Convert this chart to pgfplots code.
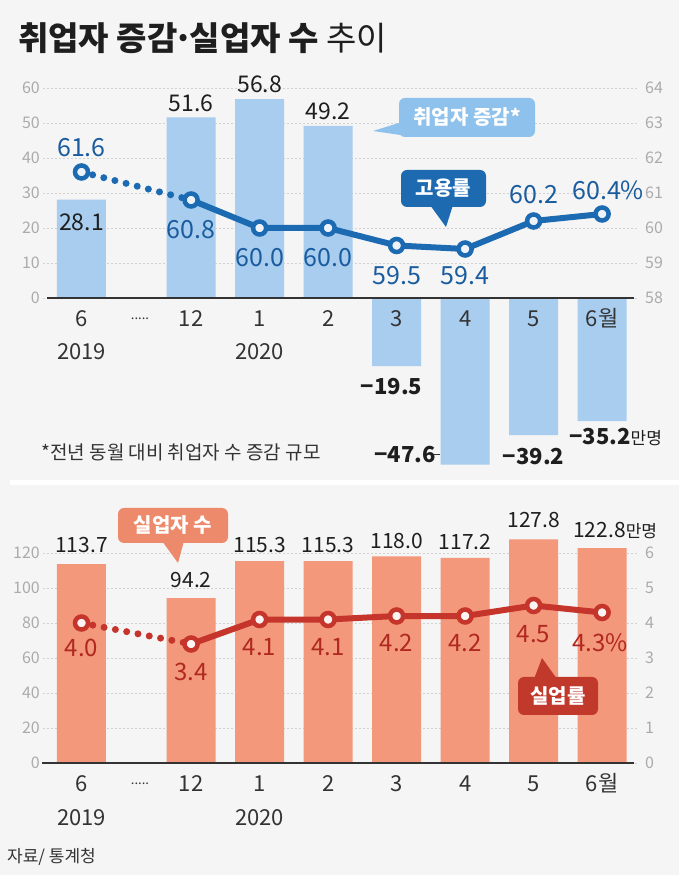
\documentclass[border=0pt]{standalone}
\usepackage{pgfplots}
\pgfplotsset{compat=1.18}
\usepackage{fontspec}
\setmainfont{Noto Sans CJK KR}
\definecolor{bg}{HTML}{F5F5F5}
\definecolor{barblue}{HTML}{A8CDEF}
\definecolor{lineblue}{HTML}{1C6AB2}
\definecolor{labblue}{HTML}{1A5C9E}
\definecolor{calblue}{HTML}{8EC1EB}
\definecolor{caldblue}{HTML}{1D6AB0}
\definecolor{barred}{HTML}{F3987B}
\definecolor{linered}{HTML}{C5352B}
\definecolor{labred}{HTML}{B0281F}
\definecolor{calsalmon}{HTML}{EE8A6C}
\definecolor{calred}{HTML}{C0392B}
\definecolor{tickgray}{HTML}{ABABAB}
\definecolor{gridgray}{HTML}{D2D2D2}
\definecolor{axisdark}{HTML}{333333}
\definecolor{txt}{HTML}{1E1E1E}
\newcommand\tickfont{\fontsize{16}{18}\selectfont}
\newcommand\xlabfont{\fontsize{22}{24}\selectfont}
\newcommand\barfont{\fontsize{23}{25}\selectfont}
\newcommand\negfont{\fontsize{22}{24}\selectfont\bfseries}
\newcommand\bbarfont{\fontsize{21}{23}\selectfont}
\newcommand\linefont{\fontsize{25}{27}\selectfont}
\newcommand\blinefont{\fontsize{24}{26}\selectfont}
\newcommand\calfont{\fontsize{20}{22}\selectfont\bfseries}
\newcommand\xlabels{%
 \begin{scope}[every node/.style={font=\xlabfont, text=axisdark, inner sep=0pt, anchor=base}]
 \node[yshift=-28.5pt] at (axis cs:0,0) {6};
 \node[yshift=-62pt] at (axis cs:0,0) {2019};
 \node[yshift=-22pt] at (axis cs:0.854,0) {\fontsize{13}{13}\selectfont .....};
 \node[yshift=-28.5pt] at (axis cs:1.6,0) {12};
 \node[yshift=-28.5pt] at (axis cs:2.6,0) {1};
 \node[yshift=-62pt] at (axis cs:2.6,0) {2020};
 \node[yshift=-28.5pt] at (axis cs:3.6,0) {2};
 \node[yshift=-28.5pt] at (axis cs:4.6,0) {3};
 \node[yshift=-28.5pt] at (axis cs:5.6,0) {4};
 \node[yshift=-28.5pt] at (axis cs:6.6,0) {5};
 \node[yshift=-28.5pt] at (axis cs:7.6,0) {6월};
 \end{scope}}
\pgfplotsset{
  common/.style={
    anchor=south west, scale only axis, width=595pt,
    xmin=-0.562, xmax=8.124, clip=false,
    major tick length=0pt,
    hide obscured x ticks=false, hide obscured y ticks=false,
    /pgf/number format/assume math mode=true,
  },
  leftax/.style={
    common,
    axis x line*=middle, axis y line*=left,
    x axis line style={draw=none}, y axis line style={draw=none},
    yticklabel style={font=\tickfont, text=tickgray, anchor=east, inner sep=0pt, xshift=-3pt},
    ymajorgrids, grid style={gridgray, dash pattern=on 2pt off 2pt, line width=0.8pt},
    xtick=\empty,
  },
  rightax/.style={
    common,
    axis x line=none, axis y line*=right,
    y axis line style={draw=none},
    yticklabel style={font=\tickfont, text=tickgray, anchor=west, inner sep=0pt, xshift=7pt},
  },
}
\begin{document}
\begin{tikzpicture}[x=1pt,y=1pt]
\useasboundingbox (0,0) rectangle (679,875);
\fill[bg] (0,0) rectangle (679,875);
\fill[white] (10,390) rectangle (679,395);
% title
\node[anchor=west, inner sep=0pt, text=txt, font=\fontsize{33}{36}\selectfont] at (18,837) {\bfseries 취업자 증감\kern-0.12em·\kern-0.12em실업자 수 \mdseries 추이};

% ---------- top panel: bars ----------
\begin{axis}[leftax, at={(43pt,402pt)}, height=385pt, ymin=-50, ymax=60, ytick={0,10,...,60}]
\addplot[ybar, bar width=49pt, fill=barblue, draw=none] coordinates {
 (0,28.1) (1.6,51.6) (2.6,56.8) (3.6,49.2) (4.6,-19.5) (5.6,-47.6) (6.6,-39.2) (7.6,-35.2)};
\draw[axisdark, line width=1.6pt] (axis cs:-0.5,0) -- (axis cs:8.07,0);
\xlabels
\begin{scope}[every node/.style={font=\barfont, text=txt, inner sep=0pt}]
\node[yshift=-23pt] at (axis cs:0,28.1) {28.1};
\node[yshift=14pt] at (axis cs:1.6,51.6) {51.6};
\node[yshift=15pt] at (axis cs:2.6,56.8) {56.8};
\node[yshift=14pt] at (axis cs:3.6,49.2) {49.2};
\node[font=\negfont, yshift=-20pt, xshift=-5pt] at (axis cs:4.6,-19.5) {−19.5};
\node[font=\negfont, yshift=10pt, xshift=-60pt] at (axis cs:5.6,-47.6) {−47.6};
\node[font=\negfont, yshift=-21pt] at (axis cs:6.6,-39.2) {−39.2};
\node[font=\negfont, anchor=west, yshift=-16pt, xshift=-33pt] at (axis cs:7.6,-35.2) {−35.2{\fontsize{17}{19}\selectfont\mdseries 만명}};
\end{scope}
\end{axis}
\draw[axisdark, line width=1pt] (434,420) -- (440,420);
% ---------- top panel: rate ----------
\begin{axis}[rightax, at={(43pt,402pt)}, height=385pt, ymin=53, ymax=64, ytick={58,...,64}]
\addplot[lineblue, line width=7pt, line cap=round, dash pattern=on 0pt off 11.5pt] coordinates {(0,61.6) (1.6,60.8)};
\addplot[lineblue, line width=6pt, line join=round] coordinates {
 (1.6,60.8) (2.6,60.0) (3.6,60.0) (4.6,59.5) (5.6,59.4) (6.6,60.2) (7.6,60.4)};
\addplot[only marks, mark=*, mark size=6.5pt, mark options={draw=lineblue, fill=white!92!lineblue, line width=4.5pt}] coordinates {
 (0,61.6) (1.6,60.8) (2.6,60.0) (3.6,60.0) (4.6,59.5) (5.6,59.4) (6.6,60.2) (7.6,60.4)};
\begin{scope}[every node/.style={font=\linefont, text=labblue, inner sep=0pt}]
\node[yshift=24pt] at (axis cs:0,61.6) {61.6};
\node[yshift=-30pt] at (axis cs:1.6,60.8) {60.8};
\node[yshift=-30pt] at (axis cs:2.6,60.0) {60.0};
\node[yshift=-30pt] at (axis cs:3.6,60.0) {60.0};
\node[yshift=-30pt] at (axis cs:4.6,59.5) {59.5};
\node[yshift=-27pt] at (axis cs:5.6,59.4) {59.4};
\node[yshift=26pt] at (axis cs:6.6,60.2) {60.2};
\node[yshift=24pt, xshift=6pt] at (axis cs:7.6,60.4) {60.4\%};
\end{scope}
\end{axis}

% ---------- bottom panel: bars ----------
\begin{axis}[leftax, at={(43pt,112pt)}, height=227.5pt, ymin=0, ymax=130, ytick={0,20,...,120}]
\addplot[ybar, bar width=49pt, fill=barred, draw=none] coordinates {
 (0,113.7) (1.6,94.2) (2.6,115.3) (3.6,115.3) (4.6,118.0) (5.6,117.2) (6.6,127.8) (7.6,122.8)};
\draw[axisdark, line width=1.6pt] (axis cs:-0.57,0) -- (axis cs:8.07,0);
\xlabels
\begin{scope}[every node/.style={font=\bbarfont, text=txt, inner sep=0pt}]
\node[yshift=19pt] at (axis cs:0,113.7) {113.7};
\node[yshift=18pt] at (axis cs:1.6,94.2) {94.2};
\node[yshift=16pt] at (axis cs:2.6,115.3) {115.3};
\node[yshift=16pt] at (axis cs:3.6,115.3) {115.3};
\node[yshift=15pt] at (axis cs:4.6,118.0) {118.0};
\node[yshift=16pt] at (axis cs:5.6,117.2) {117.2};
\node[yshift=19pt] at (axis cs:6.6,127.8) {127.8};
\node[anchor=west, yshift=18pt, xshift=-29pt] at (axis cs:7.6,122.8) {122.8{\fontsize{17}{19}\selectfont 만명}};
\end{scope}
\end{axis}
% ---------- bottom panel: rate ----------
\begin{axis}[rightax, at={(43pt,112pt)}, height=227.5pt, ymin=0, ymax=6.5, ytick={0,...,6}]
\addplot[linered, line width=7pt, line cap=round, dash pattern=on 0pt off 11.5pt] coordinates {(0,4.0) (1.6,3.4)};
\addplot[linered, line width=6pt, line join=round] coordinates {
 (1.6,3.4) (2.6,4.1) (3.6,4.1) (4.6,4.2) (5.6,4.2) (6.6,4.5) (7.6,4.3)};
\addplot[only marks, mark=*, mark size=6.5pt, mark options={draw=linered, fill=white!94!linered, line width=4.5pt}] coordinates {
 (0,4.0) (1.6,3.4) (2.6,4.1) (3.6,4.1) (4.6,4.2) (5.6,4.2) (6.6,4.5) (7.6,4.3)};
\begin{scope}[every node/.style={font=\blinefont, text=labred, inner sep=0pt}]
\node[yshift=-25pt] at (axis cs:0,4.0) {4.0};
\node[yshift=-28pt] at (axis cs:1.6,3.4) {3.4};
\node[yshift=-28pt] at (axis cs:2.6,4.1) {4.1};
\node[yshift=-28pt] at (axis cs:3.6,4.1) {4.1};
\node[yshift=-27pt] at (axis cs:4.6,4.2) {4.2};
\node[yshift=-27pt] at (axis cs:5.6,4.2) {4.2};
\node[yshift=-29pt] at (axis cs:6.6,4.5) {4.5};
\node[yshift=-30pt, xshift=-2pt] at (axis cs:7.6,4.3) {4.3\%};
\end{scope}
\end{axis}

% ---------- callouts ----------
\fill[calblue] (402,753) -- (373,744) -- (414,738) -- cycle;
\node[fill=calblue, rounded corners=6pt, minimum width=136pt, minimum height=39pt, inner sep=0pt, text=white, font=\calfont] at (467,757.5) {취업자 증감*};
\fill[caldblue] (430,670) -- (446,648) -- (453,670) -- cycle;
\node[fill=caldblue, rounded corners=6pt, minimum width=85pt, minimum height=37pt, inner sep=0pt, text=white, font=\calfont] at (443.5,686.5) {고용률};
\fill[calsalmon] (162,334) -- (178,312) -- (184,334) -- cycle;
\node[fill=calsalmon, rounded corners=6pt, minimum width=110pt, minimum height=35pt, inner sep=0pt, text=white, font=\calfont] at (173,349.5) {실업자 수};
\fill[calred] (534,196) -- (542,217) -- (557,196) -- cycle;
\node[fill=calred, rounded corners=6pt, minimum width=80pt, minimum height=38pt, inner sep=0pt, text=white, font=\calfont] at (558,179) {실업률};

% footnote and source
\node[text=axisdark, inner sep=0pt, font=\fontsize{19}{21}\selectfont] at (181,423) {*전년 동월 대비 취업자 수 증감 규모};
\node[anchor=west, text=axisdark, inner sep=0pt, font=\fontsize{17}{19}\selectfont] at (7,18) {자료/ 통계청};
\end{tikzpicture}
\end{document}
